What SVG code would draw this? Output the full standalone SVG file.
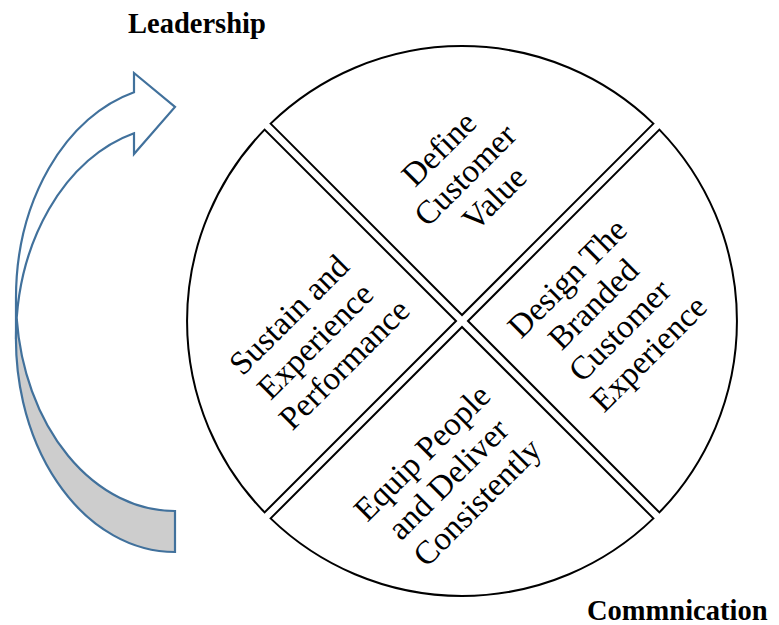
<svg xmlns="http://www.w3.org/2000/svg" width="779" height="625" viewBox="0 0 779 625">
  <style>
    .seg { fill: #ffffff; stroke: #000000; stroke-width: 2; stroke-linejoin: miter; }
    .seg-text { font-family: "Liberation Serif", "Times New Roman", serif; font-size: 33px; fill: #000000; text-anchor: middle; }
    .caption { font-family: "Liberation Serif", "Times New Roman", serif; font-size: 28.5px; font-weight: bold; fill: #000000; }
    .arrow-front { fill: #ffffff; stroke: #41719c; stroke-width: 2.2; stroke-linejoin: miter; }
    .arrow-back { fill: #cdcdcd; stroke: #41719c; stroke-width: 2.2; stroke-linejoin: miter; }
  </style>
  <rect width="779" height="625" fill="#ffffff"/>

  <!-- curved arrow on the left -->
  <g id="curved-arrow">
    <path class="arrow-front" d="M16,339 A159,213 0 0 1 134,133.2 L134,154 L175,107 L134,73 L134,92.2 A159,213 0 0 0 16,298 Z"/>
    <path class="arrow-back" d="M175,511 A159,213 0 0 1 16.7,318.5 A159,213 0 0 0 175,552 Z"/>
  </g>

  <text id="label-leadership" class="caption" x="128" y="33">Leadership</text>
  <text id="label-communication" class="caption" x="587" y="620">Commnication</text>

  <!-- four segments of the cycle -->
  <g id="seg-define">
    <path class="seg" d="M462,315 L270.6,123.6 A275,275 0 0 1 653.4,123.6 Z"/>
    <text class="seg-text" transform="translate(468,172) rotate(-45)">
      <tspan x="0" y="-26">Define</tspan>
      <tspan x="0" y="11">Customer</tspan>
      <tspan x="0" y="48">Value</tspan>
    </text>
  </g>
  <g id="seg-design">
    <path class="seg" d="M468,321 L659.4,129.6 A275,275 0 0 1 659.4,512.4 Z"/>
    <text class="seg-text" transform="translate(609,314) rotate(-45)">
      <tspan x="0" y="-44">Design The</tspan>
      <tspan x="0" y="-7">Branded</tspan>
      <tspan x="0" y="30">Customer</tspan>
      <tspan x="0" y="67">Experience</tspan>
    </text>
  </g>
  <g id="seg-equip">
    <path class="seg" d="M462,327 L653.4,518.4 A275,275 0 0 1 270.6,518.4 Z"/>
    <text class="seg-text" transform="translate(451,476) rotate(-45)">
      <tspan x="0" y="-26">Equip People</tspan>
      <tspan x="0" y="11">and Deliver</tspan>
      <tspan x="0" y="48">Consistently</tspan>
    </text>
  </g>
  <g id="seg-sustain">
    <path class="seg" d="M456,321 L264.6,512.4 A275,275 0 0 1 264.6,129.6 Z"/>
    <text class="seg-text" transform="translate(318,338) rotate(-45)">
      <tspan x="0" y="-26">Sustain and</tspan>
      <tspan x="0" y="11">Experience</tspan>
      <tspan x="0" y="48">Performance</tspan>
    </text>
  </g>
</svg>
